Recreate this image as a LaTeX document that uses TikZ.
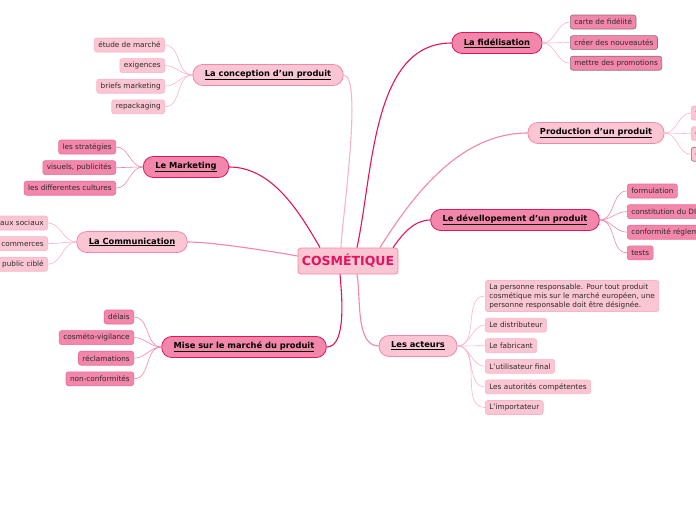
\documentclass[tikz,border=0pt]{standalone}
\usepackage{fontspec}
\setmainfont{DejaVu Sans}
\usepackage{tikz}
\usetikzlibrary{positioning}

\definecolor{ink}{HTML}{2B2B2B}
\definecolor{pinklight}{HTML}{FBC6D3}
\definecolor{pinkpale}{HTML}{F8B4C8}
\definecolor{pinkmid}{HTML}{F386AB}
\definecolor{pinkrim}{HTML}{E96B96}
\definecolor{pinkdeep}{HTML}{E2135F}
\definecolor{rimgray}{HTML}{8C6F79}

\tikzset{
  hub/.style={draw=pinkmid, fill=pinklight, line width=0.8pt, rounded corners=3pt,
    minimum width=100pt, minimum height=26pt, inner sep=0pt,
    font=\fontsize{12.5}{14}\selectfont\bfseries, text=pinkdeep},
  topic/.style={rounded corners=10pt, line width=0.8pt, minimum height=21pt,
    inner xsep=12pt, inner ysep=0pt, font=\fontsize{8.3}{10}\selectfont\bfseries, text=black},
  topiclight/.style={topic, draw=pinkmid, fill=pinklight},
  topicdark/.style={topic, draw=pinkdeep, fill=pinkmid},
  leaf/.style={rounded corners=2.5pt, line width=0.6pt, minimum height=14pt,
    inner xsep=4pt, inner ysep=0pt, font=\fontsize{7.3}{9}\selectfont, text=ink},
  leaflight/.style={leaf, draw=pinkpale, fill=pinklight},
  leafdark/.style={leaf, draw=pinkrim, fill=pinkmid},
  leafgray/.style={leaf, draw=rimgray, fill=pinkmid},
  leafpale/.style={leaf, draw=rimgray, fill=pinklight},
  linkdark/.style={draw=pinkdeep, line width=1.1pt},
  linklight/.style={draw=pinkmid, line width=1.1pt},
  linkpale/.style={draw=pinkpale, line width=1.1pt},
  twig/.style={draw=pinkpale, line width=0.6pt},
  twigdark/.style={draw=pinkmid, line width=0.6pt}
}

\begin{document}
\begin{tikzpicture}[x=1pt, y=1pt]
  \useasboundingbox (0,0) rectangle (696,-520);
  \clip (0,0) rectangle (696,-520);

  % centre
  \node[hub] (cosm) at (348,-261) {COSMÉTIQUE};

  % branches
  \node[topiclight] (concept) at (268,-75) {\underline{La conception d'un produit}};
  \node[topicdark] (market) at (186,-167) {\underline{Le Marketing}};
  \node[topiclight] (comm) at (132,-242) {\underline{La Communication}};
  \node[topicdark] (mise) at (244,-347) {\underline{Mise sur le marché du produit}};
  \node[topicdark] (fidel) at (497,-43) {\underline{La fidélisation}};
  \node[topiclight] (prod) at (596,-133) {\underline{Production d’un produit}};
  \node[topicdark] (devel) at (515,-220) {\underline{Le dévellopement d'un produit}};
  \node[topiclight] (acteurs) at (418,-346) {\underline{Les acteurs}};

  \draw[linkpale] (concept.east) to[out=0, in=90, looseness=0.3] ([xshift=-7pt]cosm.north);
  \draw[linkdark] (market.east) to[out=0, in=120, looseness=0.9] ([xshift=-28pt]cosm.north);
  \draw[linklight] (comm.east) to[out=0, in=170, looseness=0.6] ([yshift=5pt]cosm.west);
  \draw[linkdark] (mise.east) to[out=0, in=-85, looseness=0.7] ([xshift=-8pt]cosm.south);
  \draw[linkdark] (fidel.west) to[out=180, in=78, looseness=0.9] ([xshift=9pt]cosm.north);
  \draw[linklight] (prod.west) to[out=180, in=58, looseness=0.9] ([xshift=32pt]cosm.north);
  \draw[linkdark] (devel.west) to[out=180, in=55, looseness=0.9] ([xshift=45pt]cosm.north);
  \draw[linklight] (acteurs.west) to[out=180, in=-80, looseness=0.8] ([xshift=9pt]cosm.south);

  % La conception d'un produit
  \node[leaflight, anchor=east] (etude) at (165,-45) {étude de marché};
  \node[leaflight, below=6pt of etude.south east, anchor=north east] (exig) {exigences};
  \node[leaflight, below=6pt of exig.south east, anchor=north east] (briefs) {briefs marketing};
  \node[leaflight, below=6pt of briefs.south east, anchor=north east] (repack) {repackaging};
  \foreach \t in {etude, exig, briefs, repack}
    \draw[twig] (concept.west) to[out=180, in=0] (\t.east);

  % Le Marketing
  \node[leafdark, anchor=east] (strat) at (116,-147) {les stratégies};
  \node[leafdark, below=6pt of strat.south east, anchor=north east] (visuels) {visuels, publicités};
  \node[leafdark, below=6pt of visuels.south east, anchor=north east] (cultures) {les differentes cultures};
  \foreach \t in {strat, visuels, cultures}
    \draw[twigdark] (market.west) to[out=180, in=0] (\t.east);

  % La Communication
  \node[leaflight, anchor=east] (reseaux) at (48,-223) {les réseaux sociaux};
  \node[leaflight, below=6pt of reseaux.south east, anchor=north east] (commerces) {les commerces};
  \node[leaflight, below=6pt of commerces.south east, anchor=north east] (cible) {le public ciblé};
  \foreach \t in {reseaux, commerces, cible}
    \draw[twig] (comm.west) to[out=180, in=0] (\t.east);

  % Mise sur le marché du produit
  \node[leafdark, anchor=east] (delais) at (134,-317) {délais};
  \node[leafdark, below=6pt of delais.south east, anchor=north east] (vigil) {cosméto-vigilance};
  \node[leafdark, below=6pt of vigil.south east, anchor=north east] (reclam) {réclamations};
  \node[leafdark, below=6pt of reclam.south east, anchor=north east] (nonconf) {non-conformités};
  \foreach \t in {delais, vigil, reclam, nonconf}
    \draw[twigdark] (mise.west) to[out=180, in=0] (\t.east);

  % La fidélisation
  \node[leafgray, anchor=west] (carte) at (570,-22) {carte de fidélité};
  \node[leafgray, below=6pt of carte.south west, anchor=north west] (nouv) {créer des nouveautés};
  \node[leafgray, below=6pt of nouv.south west, anchor=north west] (promo) {mettre des promotions};
  \foreach \t in {carte, nouv, promo}
    \draw[twig] (fidel.east) to[out=0, in=180] (\t.west);

  % Production d'un produit
  \node[leaflight, anchor=west] (fabr) at (691,-113) {fabrication};
  \node[leaflight, below=6pt of fabr.south west, anchor=north west] (qualite) {contrôle qualité};
  \node[leafpale, below=6pt of qualite.south west, anchor=north west] (condit) {conditionnement};
  \foreach \t in {fabr, qualite, condit}
    \draw[twig] (prod.east) to[out=0, in=180] (\t.west);

  % Le dévellopement d'un produit
  \node[leafdark, anchor=west] (formul) at (627,-191) {formulation};
  \node[leafdark, below=6pt of formul.south west, anchor=north west] (dip) {constitution du DIP};
  \node[leafdark, below=6pt of dip.south west, anchor=north west] (reglem) {conformité réglementaire};
  \node[leafdark, below=6pt of reglem.south west, anchor=north west] (tests) {tests};
  \foreach \t in {formul, dip, reglem, tests}
    \draw[twigdark] (devel.east) to[out=0, in=180] (\t.west);

  % Les acteurs
  \node[leaflight, anchor=west, align=left, inner ysep=3pt] (respons) at (485,-296)
    {La personne responsable. Pour tout produit\\cosmétique mis sur le marché européen, une\\personne responsable doit être désignée.};
  \node[leaflight, below=6pt of respons.south west, anchor=north west] (distrib) {Le distributeur};
  \node[leaflight, below=6pt of distrib.south west, anchor=north west] (fabric) {Le fabricant};
  \node[leaflight, below=6pt of fabric.south west, anchor=north west] (utilis) {L'utilisateur final};
  \node[leaflight, below=6pt of utilis.south west, anchor=north west] (autor) {Les autorités compétentes};
  \node[leaflight, below=6pt of autor.south west, anchor=north west] (import) {L'importateur};
  \foreach \t in {respons, distrib, fabric, utilis, autor, import}
    \draw[twig] (acteurs.east) to[out=0, in=180] (\t.west);
\end{tikzpicture}
\end{document}
